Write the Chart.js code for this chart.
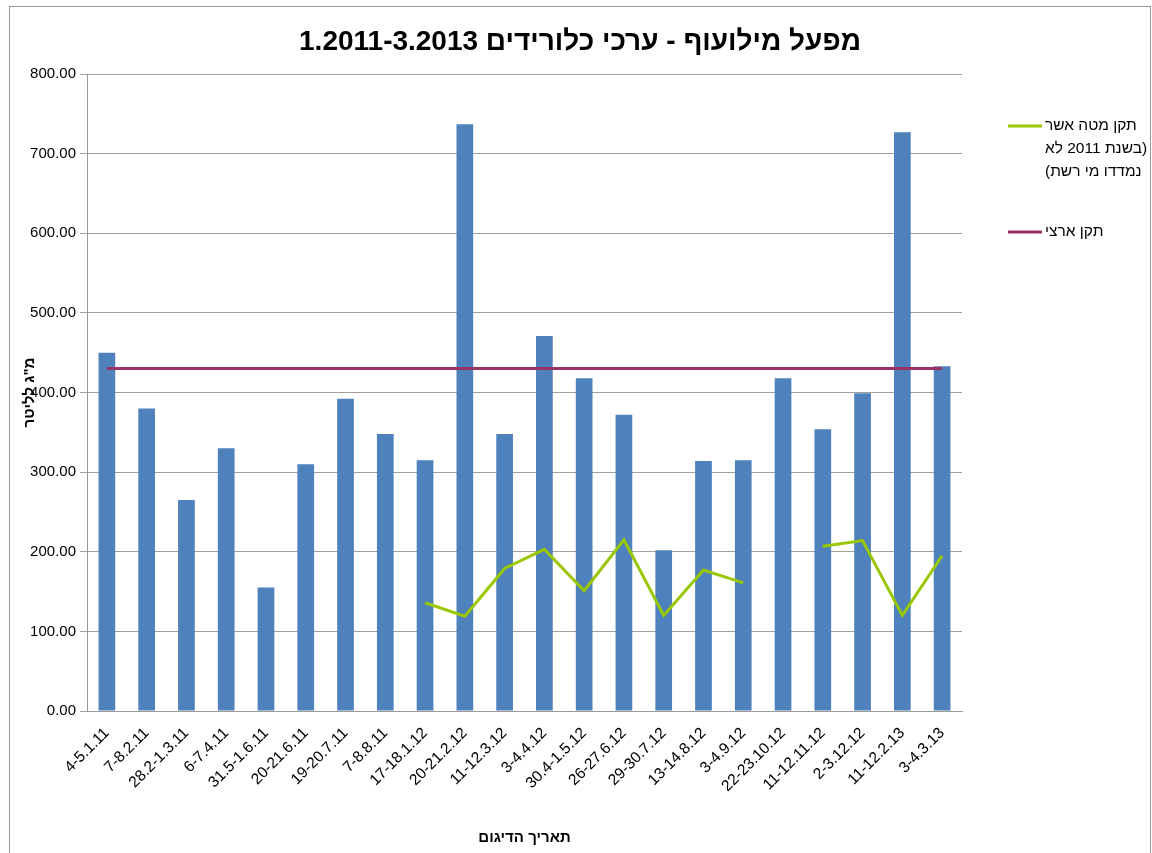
<!DOCTYPE html>
<html>
<head>
<meta charset="utf-8">
<title>כלורידים</title>
<script src="https://cdn.jsdelivr.net/npm/chart.js@4.4.0/dist/chart.umd.min.js"></script>
<style>
  html, body { margin: 0; padding: 0; background: #fff; }
  #wrap { width: 1152px; height: 853px; position: relative; }
</style>
</head>
<body>
<div id="wrap"><canvas id="chloride-chart"></canvas></div>
<script>
// sampling dates
var dates = [
    "4-5.1.11", "7-8.2.11", "28.2-1.3.11", "6-7.4.11", "31.5-1.6.11",
    "20-21.6.11", "19-20.7.11", "7-8.8.11", "17-18.1.12", "20-21.2.12",
    "11-12.3.12", "3-4.4.12", "30.4-1.5.12", "26-27.6.12", "29-30.7.12",
    "13-14.8.12", "3-4.9.12", "22-23.10.12", "11-12.11.12", "2-3.12.12",
    "11-12.2.13", "3-4.3.13"
];
// chloride values, mg/l
var chlorides = [450, 380, 265, 330, 155, 310, 392, 348, 315, 737, 348, 471,
    418, 372, 202, 314, 315, 418, 354, 399, 727, 433];
// ministry standard (no network water measured in 2011)
var ministryStd = [null, null, null, null, null, null, null, null, 136, 119,
    179, 203, 151, 215, 120, 177, 161, null, 207, 214, 120, 195];
// national standard
var nationalStd = [430, 430, 430, 430, 430, 430, 430, 430, 430, 430, 430,
    430, 430, 430, 430, 430, 430, 430, 430, 430, 430, 430];
var yTicks = [0, 100, 200, 300, 400, 500, 600, 700, 800];

var chartTitle = "מפעל מילועוף - ערכי כלורידים 1.2011-3.2013";
var xTitle = "תאריך הדיגום";
var yTitle = 'מ"ג לליטר';
var ministryLines = ["תקן מטה אשר", "(בשנת 2011 לא", "נמדדו מי רשת)"];
var nationalLines = ["תקן ארצי"];

var FONT = "'Liberation Sans', Arial, sans-serif";

// title, axis titles, legend and frame drawn by hand (Excel-like placement, RTL text)
var overlay = {
    id: "overlay",
    beforeDraw: function (chart) {
        var c = chart.ctx;
        c.save();
        c.fillStyle = "#fff";
        c.fillRect(0, 0, chart.width, chart.height);
        c.strokeStyle = "#9a9a9a";
        c.lineWidth = 1;
        c.strokeRect(9.5, 6.5, 1141, 900);
        c.restore();
    },
    afterDraw: function (chart) {
        var c = chart.ctx;
        var area = chart.chartArea;
        c.save();
        c.direction = "rtl";
        c.fillStyle = "#000";
        c.textBaseline = "middle";

        c.font = "bold 28px " + FONT;
        c.textAlign = "center";
        c.fillText(chartTitle, 580, 42);

        c.font = "bold 15px " + FONT;
        c.fillText(xTitle, (area.left + area.right) / 2, 838);

        c.save();
        c.translate(30, (area.top + area.bottom) / 2);
        c.rotate(-Math.PI / 2);
        c.fillText(yTitle, 0, 0);
        c.restore();

        // legend
        var items = [
            { lines: ministryLines, color: chart.data.datasets[0].borderColor, y: 126 },
            { lines: nationalLines, color: chart.data.datasets[1].borderColor, y: 232 }
        ];
        c.font = "15.5px " + FONT;
        c.textAlign = "left";
        items.forEach(function (it) {
            c.strokeStyle = it.color;
            c.lineWidth = 3;
            c.beginPath();
            c.moveTo(1008, it.y);
            c.lineTo(1042, it.y);
            c.stroke();
            it.lines.forEach(function (t, i) {
                c.fillText(t, 1045, it.y + i * 23);
            });
        });
        c.restore();
    }
};

var ctx = document.getElementById("chloride-chart").getContext("2d");
var chart = new Chart(ctx, {
    type: "bar",
    data: {
        labels: dates,
        datasets: [
            {
                type: "line",
                label: ministryLines.join(" "),
                data: ministryStd,
                borderColor: "#99c800",
                borderWidth: 3,
                pointRadius: 0,
                tension: 0,
                spanGaps: false
            },
            {
                type: "line",
                label: nationalLines.join(" "),
                data: nationalStd,
                borderColor: "#993366",
                borderWidth: 3,
                pointRadius: 0,
                tension: 0
            },
            {
                label: "כלורידים",
                data: chlorides,
                backgroundColor: "#4f81bd",
                categoryPercentage: 1,
                barPercentage: 0.42
            }
        ]
    },
    options: {
        responsive: true,
        maintainAspectRatio: false,
        animation: false,
        layout: { padding: { left: 10, right: 190, top: 74, bottom: 0 } },
        plugins: {
            legend: { display: false },
            title: { display: false },
            tooltip: { enabled: false }
        },
        scales: {
            x: {
                grid: { display: false },
                border: { color: "#9a9a9a", width: 1 },
                ticks: {
                    color: "#000",
                    font: { family: FONT, size: 15.5 },
                    minRotation: 45,
                    maxRotation: 45,
                    autoSkip: false,
                    padding: 5
                },
                afterFit: function (s) { s.height = 142; }
            },
            y: {
                min: 0,
                max: 800,
                afterBuildTicks: function (s) {
                    s.ticks = yTicks.map(function (v) { return { value: v }; });
                },
                grid: { color: "#a0a0a0", lineWidth: 1, tickLength: 7 },
                border: { color: "#9a9a9a", width: 1 },
                ticks: {
                    color: "#000",
                    font: { family: FONT, size: 15 },
                    padding: 4,
                    callback: function (v) { return Number(v).toFixed(2); }
                },
                afterFit: function (s) { s.width = 77; }
            }
        }
    },
    plugins: [overlay]
});
</script>
</body>
</html>
